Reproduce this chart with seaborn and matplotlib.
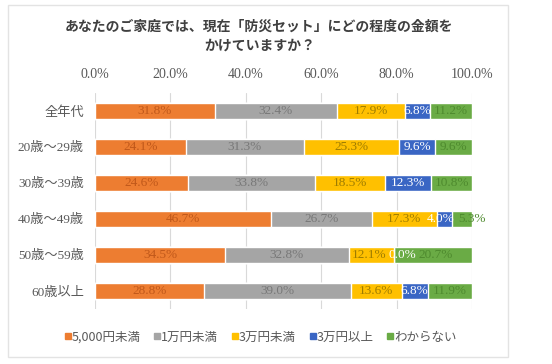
import matplotlib
matplotlib.use('Agg')
import matplotlib.pyplot as plt
from matplotlib.patches import Rectangle
from matplotlib.lines import Line2D
import seaborn as sns
import pandas as pd
import numpy as np

groups = ['全年代', '20歳～29歳', '30歳～39歳', '40歳～49歳', '50歳～59歳', '60歳以上']
series = ['5,000円未満', '1万円未満', '3万円未満', '3万円以上', 'わからない']
under_5000 = [31.8, 24.1, 24.6, 46.7, 34.5, 28.8]
under_10000 = [32.4, 31.3, 33.8, 26.7, 32.8, 39.0]
under_30000 = [17.9, 25.3, 18.5, 17.3, 12.1, 13.6]
over_30000 = [6.8, 9.6, 12.3, 4.0, 0.0, 6.8]
unknown = [11.2, 9.6, 10.8, 5.3, 20.7, 11.9]
x_ticks = [0, 20, 40, 60, 80, 100]

bar_colors = ['#ED7D31', '#A5A5A5', '#FFC000', '#3A66C4', '#6AAB45']
text_colors = ['#C0581A', '#787878', '#9E7C00', 'white', '#4E8A2E']

sns.set_theme(style='white')
plt.rcParams['font.family'] = ['Noto Sans CJK JP', 'DejaVu Sans']

values = np.array([under_5000, under_10000, under_30000, over_30000, unknown])
cum = values.cumsum(axis=0)
df = pd.DataFrame({'group': groups})
for i, s in enumerate(series):
    df[s] = values[i]
    df['cum_' + s] = cum[i]

fig = plt.figure(figsize=(5.52, 3.64), dpi=100)
ax = fig.add_axes([95 / 552, 1 - 309 / 364, (472 - 95) / 552, 216 / 364])

# stacked bars: draw cumulative totals from the outermost segment inward
for i in range(len(series) - 1, -1, -1):
    sns.barplot(data=df, x='cum_' + series[i], y='group', orient='h',
                color=bar_colors[i], saturation=1, width=0.42, ax=ax, zorder=2)

# small label nudges where segments are too narrow
nudge = {(3, 3): -1.1, (3, 4): 2.65, (4, 2): -0.6, (4, 3): 2.2, (4, 4): 0.5}

serif_cjk = ['Liberation Serif', 'Noto Sans CJK JP']
for r in range(len(groups)):
    for i in range(len(series)):
        center = cum[i, r] - values[i, r] / 2 + nudge.get((r, i), 0)
        ax.text(center, r, f'{values[i, r]:.1f}%', ha='center', va='center',
                color=text_colors[i], fontsize=9.5, family=serif_cjk, zorder=3)

ax.set_xlim(0, 100)
ax.set_xticks(x_ticks)
ax.set_xticklabels([f'{t:.1f}%' for t in x_ticks], family=serif_cjk,
                   fontsize=10, color='#595959')
ax.xaxis.tick_top()
ax.tick_params(axis='x', length=0, pad=9)
ax.tick_params(axis='y', length=0, pad=8)
ax.set_yticks(range(len(groups)))
ax.set_yticklabels(groups, family=serif_cjk, fontsize=9.5, color='#595959')
ax.set_xlabel('')
ax.set_ylabel('')
ax.grid(axis='x', color='#D9D9D9', linewidth=0.8, zorder=0)
ax.set_axisbelow(True)
for sp in ax.spines.values():
    sp.set_visible(False)

fig.text(0.47, 1 - 36 / 364, 'あなたのご家庭では、現在「防災セット」にどの程度の金額を\nかけていますか？',
         ha='center', va='center', fontsize=10, fontweight='bold', color='#404040',
         linespacing=1.4)

handles = [Line2D([0], [0], marker='s', linestyle='none', markersize=4,
                  markerfacecolor=c, markeredgecolor=c) for c in bar_colors]
fig.legend(handles, series, loc='center', bbox_to_anchor=(0.472, 1 - 337 / 364),
           ncol=5, frameon=False, fontsize=9, handlelength=0.5, handletextpad=0.05,
           columnspacing=1.1, labelcolor='#595959')

fig.patches.append(Rectangle((8 / 552, 1 - 357 / 364), 500 / 552, 352 / 364,
                             transform=fig.transFigure, fill=False,
                             edgecolor='#E3E3E3', linewidth=1))

fig.savefig('out.png', dpi=100, facecolor='white')
